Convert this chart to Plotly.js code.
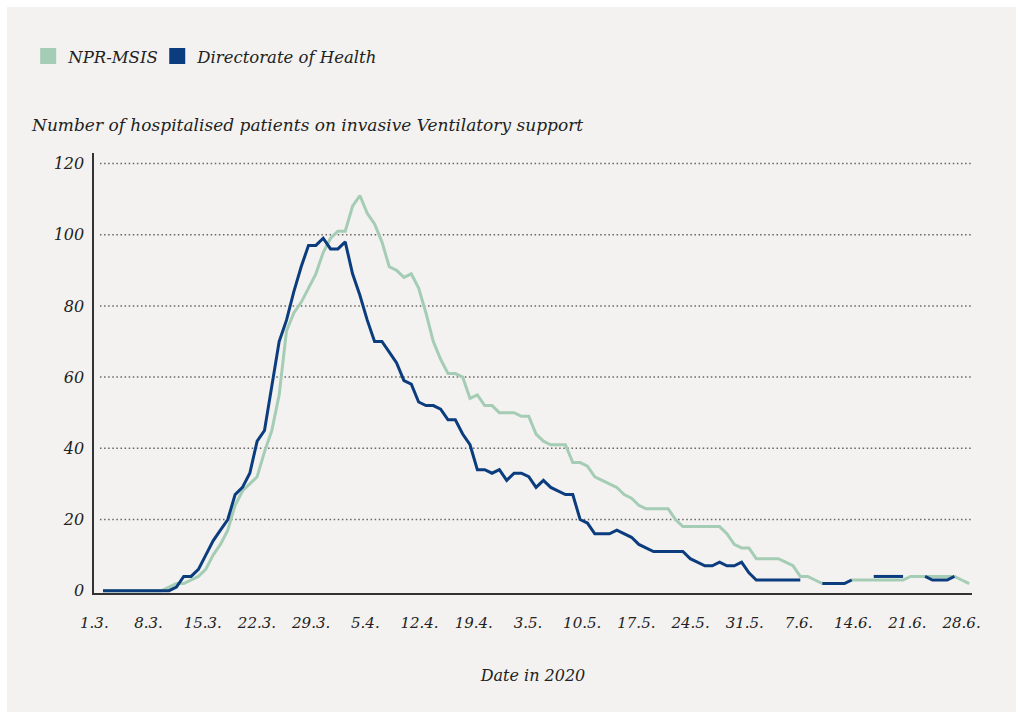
<!DOCTYPE html>
<html><head><meta charset="utf-8">
<script src="https://cdn.plot.ly/plotly-3.0.1.min.js"></script>
<style>
html,body{margin:0;padding:0;background:#ffffff;}
#chart{position:absolute;left:7px;top:7px;width:1009px;height:705px;}
</style></head><body><div id="chart"></div>
<script>
// Daily values from 1 March 2020 (index = days since 1.3.)
const nprMsis = [0,0,0,0,0,0,0,0,0,1,2,2,3,4,6,10,13,17,24,28,30,32,39,45,55,73,78,81,85,89,
  95,99,101,101,108,111,106,103,98,91,90,88,89,85,78,70,65,61,61,60,
  54,55,52,52,50,50,50,49,49,44,42,41,41,41,36,36,35,32,31,30,
  29,27,26,24,23,23,23,23,20,18,18,18,18,18,18,16,13,12,12,9,
  9,9,9,8,7,4,4,3,2,2,2,2,3,3,3,3,3,3,3,3,
  4,4,4,4,4,4,4,3,2];
const directorate = [0,0,0,0,0,0,0,0,0,0,1,4,4,6,10,14,17,20,27,29,
  33,42,45,57,70,76,84,91,97,97,99,96,96,98,89,83,76,70,70,67,
  64,59,58,53,52,52,51,48,48,44,41,34,34,33,34,31,33,33,32,29,
  31,29,28,27,27,20,19,16,16,16,17,16,15,13,12,11,11,11,11,11,
  9,8,7,7,8,7,7,8,5,3,3,3,3,3,3,3,null,null,2,2,
  2,2,3,null,null,4,4,4,4,4,null,null,4,3,3,3,4];
const seriesNames = ['NPR-MSIS', 'Directorate of Health'];
const xTickLabels = ['1.3.','8.3.','15.3.','22.3.','29.3.','5.4.','12.4.','19.4.','3.5.','10.5.','17.5.','24.5.','31.5.','7.6.','14.6.','21.6.','28.6.'];
const yTickValues = [0,20,40,60,80,100,120];
const yGridValues = [20,40,60,80,100,120];
const titleText = 'Number of hospitalised patients on invasive Ventilatory support';
const xTitleText = 'Date in 2020';

const green = '#a5cdb5';
const blue = '#0b3d7e';
const FONT = 'DejaVu Serif, Liberation Serif, serif';

const daysG = nprMsis.map((_, i) => i);
const daysB = directorate.map((_, i) => i);

// labels are spread evenly along the axis in the original
const tickFirst = -1.18, tickLast = 116.97;
const tickVals = xTickLabels.map((_, i) => tickFirst + i * (tickLast - tickFirst) / (xTickLabels.length - 1));

const traces = [
  {x: daysG, y: nprMsis, type: 'scatter', mode: 'lines', name: seriesNames[0],
   line: {color: green, width: 3}, showlegend: false, connectgaps: false, hoverinfo: 'skip'},
  {x: daysB, y: directorate, type: 'scatter', mode: 'lines', name: seriesNames[1],
   line: {color: blue, width: 3}, showlegend: false, connectgaps: false, hoverinfo: 'skip'},
  {x: [null], y: [null], type: 'scatter', mode: 'markers', name: seriesNames[0],
   marker: {symbol: 'square', size: 18, color: green}, showlegend: true, legend: 'legend'},
  {x: [null], y: [null], type: 'scatter', mode: 'markers', name: seriesNames[1],
   marker: {symbol: 'square', size: 18, color: blue}, showlegend: true, legend: 'legend2'}
];

const legendFont = {family: FONT, size: 16.5, style: 'italic', color: '#222'};
const gridShapes = yGridValues.map(v => ({
  type: 'line', xref: 'paper', yref: 'y', x0: 0.0068, x1: 1, y0: v, y1: v,
  line: {color: '#666666', width: 1.5, dash: '1.5px,2.6px'}, layer: 'below'
}));

const layout = {
  width: 1009, height: 705,
  paper_bgcolor: '#f3f2f0', plot_bgcolor: '#f3f2f0',
  margin: {l: 87, r: 44, t: 146, b: 119},
  font: {family: FONT, color: '#222222'},
  showlegend: true,
  legend: {orientation: 'h', xref: 'container', yref: 'container', x: 0.021, y: 0.93,
           xanchor: 'left', yanchor: 'middle', bgcolor: 'rgba(0,0,0,0)',
           font: legendFont, itemclick: false},
  legend2: {orientation: 'h', xref: 'container', yref: 'container', x: 0.1489, y: 0.93,
           xanchor: 'left', yanchor: 'middle', bgcolor: 'rgba(0,0,0,0)',
           font: legendFont, itemclick: false},
  title: {text: titleText, xref: 'container', yref: 'container', x: 0.0248, y: 0.833,
          xanchor: 'left', yanchor: 'middle',
          font: {family: FONT, size: 17, style: 'italic', color: '#222'}},
  xaxis: {range: [-1.226, 118.39], tickmode: 'array', tickvals: tickVals, ticktext: xTickLabels,
          showgrid: false, zeroline: false, showline: true, linecolor: '#333333', linewidth: 1.6,
          ticks: '', ticklabelstandoff: 15,
          tickfont: {family: FONT, size: 15, style: 'italic', color: '#222'},
          title: {text: xTitleText, standoff: 39, font: {family: FONT, size: 16, style: 'italic', color: '#222'}},
          automargin: false, fixedrange: true},
  yaxis: {range: [-0.65, 122.95], tickmode: 'array', tickvals: yTickValues,
          showgrid: false, zeroline: false, showline: true, linecolor: '#333333', linewidth: 1.6,
          ticks: '', ticklabelstandoff: 5,
          tickfont: {family: FONT, size: 16, style: 'italic', color: '#222'},
          automargin: false, fixedrange: true},
  shapes: gridShapes
};

Plotly.newPlot('chart', traces, layout, {displayModeBar: false, staticPlot: true});
</script></body></html>
